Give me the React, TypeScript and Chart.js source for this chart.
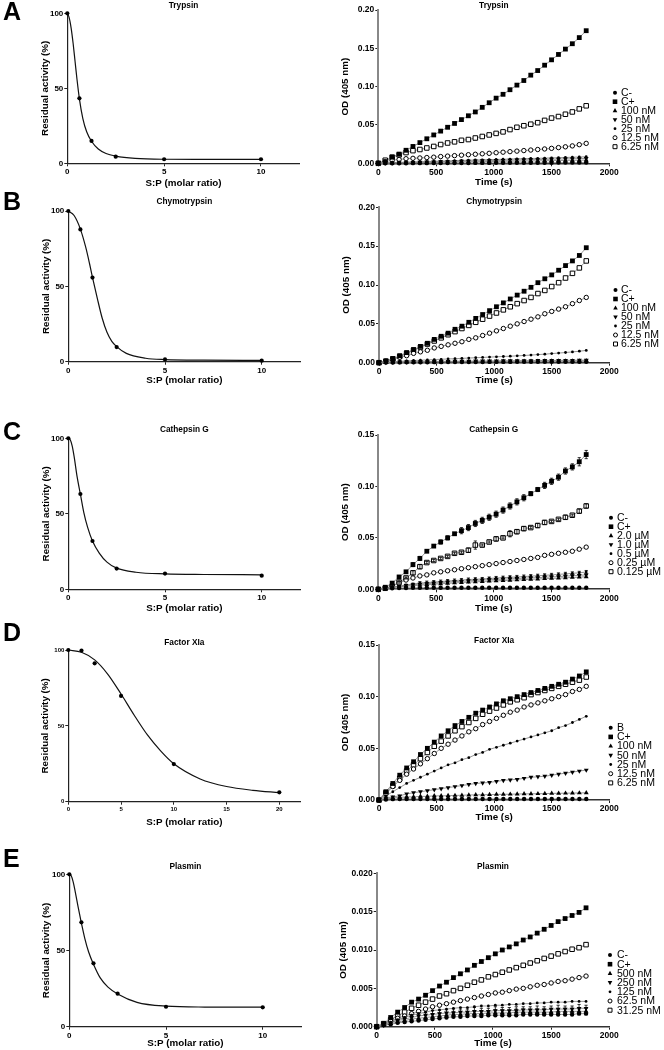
import React, { useEffect, useRef } from "react";
import { Chart, registerables } from "chart.js";

Chart.register(...registerables);

const FONT = "'Liberation Sans', Arial, Helvetica, sans-serif";

// ---------------- Data: dose-response (left column) ----------------
const RATIO = [0, 0.625, 1.25, 2.5, 5, 10];
const RATIO_FXIA = [0, 1.25, 2.5, 5, 10, 20];

const TRYPSIN_RES = [100, 43.3, 14.9, 4.4, 2.7, 2.7];
const CHYMO_RES = [100, 87.8, 55.8, 9.7, 1.5, 0.7];
const CATG_RES = [100, 63.1, 32, 13.7, 10.4, 9];
const FXIA_RES = [100, 99.6, 91.2, 69.7, 24.8, 6.2];
const PLASMIN_RES = [100, 68.5, 41.6, 21.7, 13.1, 12.7];

// fitted curves
const TRYPSIN_FIT_X = [0, 0.1, 0.2, 0.3, 0.4, 0.5, 0.625, 0.8, 1, 1.25, 1.6, 2, 2.5, 3.5, 5, 7, 10];
const TRYPSIN_FIT_Y = [100, 97, 90, 80, 68, 56, 43, 30, 21, 14.7, 9.5, 6.5, 4.8, 3.3, 2.7, 2.6, 2.6];
const CHYMO_FIT_X = [0, 0.3, 0.625, 0.9, 1.1, 1.25, 1.5, 1.75, 2, 2.25, 2.5, 3, 4, 5, 7, 10];
const CHYMO_FIT_Y = [100, 97, 88, 76, 65, 56, 42, 29, 19.5, 13.5, 10, 5.5, 2.3, 1.4, 1, 0.9];
const CATG_FIT_X = [0, 0.1, 0.2, 0.3, 0.45, 0.625, 0.8, 1, 1.25, 1.6, 2, 2.5, 3.5, 5, 7, 10];
const CATG_FIT_Y = [100, 99, 95, 88, 75, 63, 51, 41, 32, 24, 18, 14, 11.3, 10.2, 9.8, 9.6];
const FXIA_FIT_X = [0, 1.25, 2.5, 3.75, 5, 6.25, 7.5, 8.75, 10, 12.5, 15, 17.5, 20];
const FXIA_FIT_Y = [100, 98.5, 93.5, 84, 71, 57, 44, 33.5, 25, 15, 10, 7.5, 6];
const PLASMIN_FIT_X = [0, 0.1, 0.2, 0.3, 0.45, 0.625, 0.8, 1, 1.25, 1.6, 2, 2.5, 3.5, 5, 7, 10];
const PLASMIN_FIT_Y = [100, 99, 95, 89, 79, 68, 58, 49, 41, 32, 26, 21.5, 16, 13.5, 12.9, 12.8];

const RATIO_TICKS = [0, 5, 10];
const RATIO_TICKS_FXIA = [0, 5, 10, 15, 20];
const RES_TICKS = [0, 50, 100];

// ---------------- Data: kinetics (right column) ----------------
const TIME = [0, 60, 120, 180, 240, 300, 360, 420, 480, 540, 600, 660, 720, 780, 840, 900, 960, 1020, 1080, 1140, 1200, 1260, 1320, 1380, 1440, 1500, 1560, 1620, 1680, 1740, 1800];
const TIME_TICKS = [0, 500, 1000, 1500, 2000];
const OD_TICKS_20 = [0, 0.05, 0.1, 0.15, 0.2];
const OD_TICKS_15 = [0, 0.05, 0.1, 0.15];
const OD_TICKS_PLASMIN = [0, 0.005, 0.01, 0.015, 0.02];

const LABELS_NM = ["C-", "C+", "100 nM", "50 nM", "25 nM", "12.5 nM", "6.25 nM"];
const LABELS_UM = ["C-", "C+", "2.0 µM", "1.0 µM", "0.5 µM", "0.25 µM", "0.125 µM"];
const LABELS_FXIA = ["B", "C+", "100 nM", "50 nM", "25 nM", "12.5 nM", "6.25 nM"];
const LABELS_PLASMIN = ["C-", "C+", "500 nM", "250 nM", "125 nM", "62.5 nM", "31.25 nM"];

// Trypsin
const TRY_CNEG = [0, 0, 0.0001, 0.0001, 0.0001, 0.0002, 0.0002, 0.0002, 0.0003, 0.0003, 0.0003, 0.0004, 0.0004, 0.0004, 0.0005, 0.0005, 0.0005, 0.0006, 0.0006, 0.0006, 0.0007, 0.0007, 0.0007, 0.0008, 0.0008, 0.0008, 0.0009, 0.0009, 0.0009, 0.001, 0.001];
const TRY_CPOS = [0, 0.002, 0.008, 0.012, 0.017, 0.022, 0.027, 0.032, 0.037, 0.042, 0.047, 0.052, 0.057, 0.062, 0.067, 0.073, 0.079, 0.085, 0.09, 0.096, 0.102, 0.108, 0.115, 0.121, 0.128, 0.135, 0.142, 0.149, 0.156, 0.164, 0.173];
const TRY_100 = [0, 0.0002, 0.0004, 0.0005, 0.0007, 0.0008, 0.001, 0.0011, 0.0012, 0.0014, 0.0015, 0.0016, 0.0018, 0.0019, 0.002, 0.0022, 0.0023, 0.0024, 0.0026, 0.0027, 0.0028, 0.003, 0.0031, 0.0032, 0.0034, 0.0035, 0.0036, 0.0038, 0.0039, 0.004, 0.0042];
const TRY_50 = [0, 0.0003, 0.0006, 0.0008, 0.001, 0.0013, 0.0015, 0.0017, 0.0019, 0.0021, 0.0023, 0.0025, 0.0027, 0.0029, 0.0031, 0.0033, 0.0035, 0.0037, 0.0039, 0.0041, 0.0043, 0.0045, 0.0047, 0.0049, 0.0051, 0.0053, 0.0055, 0.0057, 0.0059, 0.0061, 0.0064];
const TRY_25 = [0, 0.0004, 0.0008, 0.0011, 0.0014, 0.0017, 0.002, 0.0023, 0.0026, 0.0029, 0.0032, 0.0035, 0.0037, 0.004, 0.0043, 0.0045, 0.0048, 0.005, 0.0053, 0.0055, 0.0058, 0.006, 0.0063, 0.0065, 0.0068, 0.007, 0.0073, 0.0076, 0.0079, 0.0082, 0.0086];
const TRY_12 = [0, 0.002, 0.004, 0.005, 0.006, 0.0065, 0.007, 0.0075, 0.008, 0.0088, 0.0094, 0.01, 0.0106, 0.0112, 0.0118, 0.0124, 0.013, 0.0138, 0.0145, 0.0152, 0.0159, 0.0166, 0.0173, 0.018, 0.0187, 0.0195, 0.0205, 0.0215, 0.0227, 0.0243, 0.026];
const TRY_6 = [0, 0.004, 0.008, 0.011, 0.014, 0.0165, 0.018, 0.02, 0.022, 0.0245, 0.0265, 0.028, 0.03, 0.031, 0.033, 0.035, 0.037, 0.039, 0.041, 0.044, 0.047, 0.049, 0.051, 0.053, 0.056, 0.059, 0.061, 0.064, 0.067, 0.071, 0.075];

// Chymotrypsin
const CHY_CNEG = [0, 0.0002, 0.0003, 0.0004, 0.0005, 0.0005, 0.0006, 0.0006, 0.0007, 0.0007, 0.0008, 0.0008, 0.0008, 0.0009, 0.0009, 0.0009, 0.001, 0.001, 0.001, 0.001, 0.0011, 0.0011, 0.0011, 0.0011, 0.0012, 0.0012, 0.0012, 0.0012, 0.0013, 0.0013, 0.0013];
const CHY_CPOS = [0, 0.002, 0.005, 0.009, 0.013, 0.017, 0.021, 0.025, 0.03, 0.034, 0.038, 0.043, 0.047, 0.052, 0.057, 0.062, 0.067, 0.072, 0.077, 0.082, 0.087, 0.092, 0.097, 0.103, 0.108, 0.113, 0.119, 0.125, 0.131, 0.138, 0.148];
const CHY_100 = [0, 0.0003, 0.0005, 0.0007, 0.0008, 0.0009, 0.001, 0.0011, 0.0012, 0.0012, 0.0013, 0.0013, 0.0014, 0.0014, 0.0015, 0.0015, 0.0016, 0.0016, 0.0017, 0.0017, 0.0018, 0.0018, 0.0019, 0.0019, 0.002, 0.002, 0.0021, 0.0021, 0.0022, 0.0022, 0.0023];
const CHY_50 = [0, 0.0004, 0.0007, 0.0009, 0.0011, 0.0013, 0.0014, 0.0015, 0.0016, 0.0017, 0.0018, 0.0019, 0.002, 0.0021, 0.0022, 0.0022, 0.0023, 0.0024, 0.0025, 0.0025, 0.0026, 0.0027, 0.0027, 0.0028, 0.0029, 0.0029, 0.003, 0.0031, 0.0031, 0.0032, 0.0033];
const CHY_25 = [0, 0.0007, 0.0013, 0.0018, 0.0023, 0.0028, 0.0032, 0.0036, 0.004, 0.0044, 0.0048, 0.0052, 0.0056, 0.006, 0.0064, 0.0068, 0.0072, 0.0076, 0.008, 0.0084, 0.0088, 0.0093, 0.0098, 0.0104, 0.011, 0.0117, 0.0124, 0.0131, 0.0139, 0.0148, 0.0158];
const CHY_12 = [0, 0.002, 0.004, 0.007, 0.009, 0.012, 0.014, 0.016, 0.019, 0.021, 0.023, 0.025, 0.027, 0.03, 0.032, 0.035, 0.038, 0.041, 0.044, 0.047, 0.05, 0.053, 0.056, 0.059, 0.063, 0.066, 0.069, 0.072, 0.076, 0.08, 0.084];
const CHY_6 = [0, 0.002, 0.005, 0.008, 0.012, 0.016, 0.02, 0.024, 0.028, 0.032, 0.036, 0.04, 0.044, 0.048, 0.052, 0.056, 0.06, 0.064, 0.068, 0.072, 0.076, 0.08, 0.084, 0.089, 0.093, 0.098, 0.103, 0.109, 0.115, 0.122, 0.131];

// Cathepsin G
const CAT_CNEG = [0, 0.0005, 0.001, 0.0012, 0.0013, 0.0014, 0.0014, 0.0015, 0.0015, 0.0015, 0.0015, 0.0015, 0.0015, 0.0015, 0.0015, 0.0015, 0.0015, 0.0015, 0.0015, 0.0015, 0.0015, 0.0015, 0.0015, 0.0015, 0.0015, 0.0015, 0.0015, 0.0015, 0.0015, 0.0015, 0.0015];
const CAT_CPOS = [0, 0.002, 0.006, 0.012, 0.017, 0.024, 0.03, 0.037, 0.042, 0.046, 0.05, 0.054, 0.057, 0.06, 0.064, 0.067, 0.07, 0.073, 0.077, 0.081, 0.085, 0.089, 0.093, 0.097, 0.101, 0.105, 0.109, 0.115, 0.119, 0.124, 0.131];
const CAT_CPOS_ERR = [0, 0, 0.001, 0.001, 0.001, 0.002, 0.002, 0.001, 0.001, 0.002, 0.002, 0.001, 0.003, 0.003, 0.003, 0.003, 0.003, 0.003, 0.003, 0.003, 0.003, 0.003, 0.002, 0.002, 0.003, 0.003, 0.003, 0.003, 0.003, 0.004, 0.004];
const CAT_2 = [0, 0.001, 0.0018, 0.0025, 0.003, 0.0035, 0.004, 0.0045, 0.005, 0.0054, 0.0058, 0.0062, 0.0066, 0.007, 0.0073, 0.0076, 0.0079, 0.0082, 0.0085, 0.0088, 0.0091, 0.0094, 0.0097, 0.01, 0.0103, 0.0106, 0.0109, 0.0112, 0.0115, 0.0118, 0.0122];
const CAT_1 = [0, 0.001, 0.002, 0.003, 0.0037, 0.0044, 0.005, 0.0055, 0.006, 0.0065, 0.007, 0.0074, 0.0078, 0.0082, 0.0086, 0.009, 0.0093, 0.0096, 0.0099, 0.0102, 0.0105, 0.0108, 0.0111, 0.0114, 0.0117, 0.012, 0.0124, 0.0128, 0.0132, 0.0136, 0.014];
const CAT_05 = [0, 0.001, 0.002, 0.003, 0.004, 0.005, 0.006, 0.0065, 0.007, 0.0075, 0.008, 0.0085, 0.009, 0.0095, 0.0098, 0.01, 0.0105, 0.011, 0.0113, 0.0117, 0.012, 0.0124, 0.0128, 0.0132, 0.0136, 0.014, 0.0145, 0.015, 0.0155, 0.016, 0.0168];
const CAT_05_ERR = [0, 0, 0, 0.0005, 0.001, 0.001, 0.0015, 0.0015, 0.0015, 0.0015, 0.0015, 0.0015, 0.0015, 0.0015, 0.0015, 0.0015, 0.0015, 0.0015, 0.0015, 0.0015, 0.0015, 0.0015, 0.0015, 0.0015, 0.0015, 0.0015, 0.0015, 0.0015, 0.0015, 0.0015, 0.0015];
const CAT_025 = [0, 0.001, 0.003, 0.006, 0.009, 0.011, 0.013, 0.014, 0.016, 0.017, 0.018, 0.019, 0.02, 0.021, 0.022, 0.023, 0.024, 0.025, 0.026, 0.027, 0.028, 0.029, 0.03, 0.031, 0.033, 0.034, 0.035, 0.036, 0.037, 0.039, 0.041];
const CAT_0125 = [0, 0.001, 0.003, 0.007, 0.011, 0.016, 0.022, 0.026, 0.028, 0.03, 0.032, 0.035, 0.036, 0.038, 0.043, 0.043, 0.046, 0.049, 0.05, 0.054, 0.056, 0.059, 0.06, 0.062, 0.065, 0.066, 0.068, 0.07, 0.072, 0.076, 0.081];
const CAT_0125_ERR = [0, 0, 0.001, 0.001, 0.001, 0.002, 0.002, 0.001, 0.001, 0.001, 0.001, 0.001, 0.001, 0.002, 0.004, 0.001, 0.001, 0.002, 0.001, 0.003, 0.002, 0.002, 0.001, 0.002, 0.002, 0.001, 0.001, 0.002, 0.001, 0.002, 0.002];

// Factor XIa
const FXI_B = [0, 0.0005, 0.0008, 0.001, 0.001, 0.001, 0.001, 0.001, 0.001, 0.001, 0.001, 0.001, 0.001, 0.001, 0.001, 0.001, 0.001, 0.001, 0.001, 0.001, 0.001, 0.001, 0.001, 0.001, 0.001, 0.001, 0.001, 0.001, 0.001, 0.001, 0.001];
const FXI_CPOS = [0, 0.008, 0.016, 0.024, 0.031, 0.037, 0.044, 0.05, 0.056, 0.062, 0.067, 0.072, 0.076, 0.08, 0.084, 0.087, 0.09, 0.093, 0.096, 0.098, 0.1, 0.102, 0.104, 0.106, 0.108, 0.11, 0.112, 0.114, 0.117, 0.12, 0.124];
const FXI_100 = [0, 0.001, 0.002, 0.0025, 0.003, 0.003, 0.0035, 0.0035, 0.004, 0.004, 0.0042, 0.0044, 0.0046, 0.0048, 0.005, 0.0051, 0.0052, 0.0054, 0.0055, 0.0056, 0.0058, 0.0059, 0.006, 0.0061, 0.0062, 0.0064, 0.0065, 0.0066, 0.0067, 0.0068, 0.007];
const FXI_50 = [0, 0.002, 0.003, 0.004, 0.006, 0.007, 0.008, 0.009, 0.01, 0.011, 0.012, 0.013, 0.014, 0.015, 0.016, 0.0165, 0.017, 0.018, 0.019, 0.0195, 0.02, 0.021, 0.022, 0.0225, 0.023, 0.024, 0.025, 0.026, 0.027, 0.028, 0.029];
const FXI_25 = [0, 0.004, 0.008, 0.012, 0.016, 0.019, 0.022, 0.025, 0.028, 0.031, 0.034, 0.036, 0.039, 0.041, 0.044, 0.046, 0.049, 0.051, 0.053, 0.055, 0.057, 0.059, 0.061, 0.063, 0.065, 0.067, 0.07, 0.072, 0.075, 0.078, 0.081];
const FXI_12 = [0, 0.006, 0.013, 0.019, 0.025, 0.03, 0.035, 0.04, 0.045, 0.05, 0.054, 0.058, 0.062, 0.066, 0.069, 0.073, 0.076, 0.079, 0.082, 0.085, 0.087, 0.09, 0.092, 0.094, 0.096, 0.098, 0.1, 0.102, 0.105, 0.107, 0.11];
const FXI_6 = [0, 0.007, 0.014, 0.021, 0.028, 0.034, 0.04, 0.046, 0.052, 0.057, 0.062, 0.067, 0.071, 0.075, 0.079, 0.083, 0.086, 0.089, 0.092, 0.095, 0.097, 0.099, 0.102, 0.104, 0.106, 0.108, 0.11, 0.112, 0.114, 0.116, 0.119];

// Plasmin
const PLA_CNEG = [0, 0.0002, 0.0003, 0.0005, 0.0006, 0.0007, 0.0008, 0.0009, 0.001, 0.0011, 0.0012, 0.0013, 0.0013, 0.0014, 0.0014, 0.0014, 0.0015, 0.0015, 0.0015, 0.0015, 0.0015, 0.0016, 0.0016, 0.0016, 0.0016, 0.0016, 0.0016, 0.0016, 0.0016, 0.0017, 0.0017];
const PLA_CPOS = [0, 0.0004, 0.0012, 0.0019, 0.0025, 0.0032, 0.0036, 0.0041, 0.0047, 0.0053, 0.0058, 0.0064, 0.0069, 0.0074, 0.008, 0.0085, 0.009, 0.0095, 0.01, 0.0104, 0.0108, 0.0113, 0.0117, 0.0122, 0.0127, 0.0132, 0.0137, 0.0141, 0.0145, 0.0149, 0.0155];
const PLA_500 = [0, 0.0002, 0.0004, 0.0006, 0.0008, 0.001, 0.0011, 0.0012, 0.0013, 0.0014, 0.0015, 0.0016, 0.0016, 0.0017, 0.0017, 0.0017, 0.0018, 0.0018, 0.0018, 0.0018, 0.0019, 0.0019, 0.0019, 0.0019, 0.0019, 0.0019, 0.002, 0.002, 0.002, 0.002, 0.002];
const PLA_500_ERR = [0, 0, 0.0001, 0.0002, 0.0003, 0.0003, 0.0004, 0.0003, 0.0004, 0.0004, 0.0003, 0.0004, 0.0004, 0.0003, 0.0004, 0.0004, 0.0003, 0.0004, 0.0004, 0.0003, 0.0004, 0.0004, 0.0003, 0.0004, 0.0004, 0.0004, 0.0003, 0.0004, 0.0004, 0.0003, 0.0004];
const PLA_250 = [0, 0.0002, 0.0005, 0.0008, 0.001, 0.0012, 0.0014, 0.0015, 0.0016, 0.0017, 0.0018, 0.0018, 0.0019, 0.0019, 0.002, 0.002, 0.002, 0.0021, 0.0021, 0.0021, 0.0021, 0.0022, 0.0022, 0.0022, 0.0022, 0.0023, 0.0023, 0.0023, 0.0023, 0.0024, 0.0024];
const PLA_250_ERR = [0, 0, 0.0001, 0.0002, 0.0003, 0.0004, 0.0004, 0.0004, 0.0005, 0.0004, 0.0004, 0.0005, 0.0004, 0.0004, 0.0005, 0.0004, 0.0004, 0.0005, 0.0004, 0.0004, 0.0005, 0.0004, 0.0004, 0.0005, 0.0004, 0.0004, 0.0005, 0.0004, 0.0004, 0.0005, 0.0004];
const PLA_125 = [0, 0.0003, 0.0006, 0.0009, 0.0012, 0.0015, 0.0017, 0.0019, 0.0021, 0.0022, 0.0023, 0.0024, 0.0025, 0.0025, 0.0026, 0.0027, 0.0027, 0.0028, 0.0028, 0.0029, 0.0029, 0.003, 0.003, 0.0031, 0.0031, 0.0032, 0.0032, 0.0032, 0.0033, 0.0033, 0.0033];
const PLA_62 = [0, 0.0003, 0.0007, 0.0011, 0.0014, 0.0017, 0.002, 0.0023, 0.0026, 0.0028, 0.003, 0.0032, 0.0034, 0.0036, 0.0038, 0.004, 0.0042, 0.0044, 0.0045, 0.0047, 0.0049, 0.005, 0.0052, 0.0054, 0.0055, 0.0057, 0.0059, 0.006, 0.0062, 0.0064, 0.0066];
const PLA_31 = [0, 0.0004, 0.0009, 0.0014, 0.0019, 0.0024, 0.0028, 0.0032, 0.0036, 0.004, 0.0043, 0.0047, 0.005, 0.0054, 0.0058, 0.0061, 0.0065, 0.0068, 0.0071, 0.0074, 0.0077, 0.008, 0.0083, 0.0086, 0.0089, 0.0092, 0.0095, 0.0098, 0.0101, 0.0103, 0.0107];

// ---------------- Styling / layout ----------------
type Mk = "circle" | "square" | "triangle" | "triangleDown" | "dot" | "openCircle" | "openSquare";
const MARKERS: Mk[] = ["circle", "square", "triangle", "triangleDown", "dot", "openCircle", "openSquare"];

interface Series { label: string; values: number[]; marker: Mk; errors?: number[] }

interface PanelCfg {
  kind: "dose" | "kinetic";
  canvas: [number, number, number, number];
  plot: [number, number, number, number];
  xMax: number; yMax: number;
  xTicks: number[]; yTicks: number[]; decimals: number;
  tickFont: number;
  title: string; titleY: number;
  xTitle: string; xTitleY: number;
  yTitle: string; yTitleX: number;
  letter?: string; letterY?: number;
  doseX?: number[]; doseY?: number[]; fitX?: number[]; fitY?: number[];
  series?: Series[];
  legend?: { mx: number; tx: number; y0: number; dy: number };
}

function mkSeries(labels: string[], vals: number[][], errs: (number[] | undefined)[] = []): Series[] {
  return labels.map((l, i) => ({ label: l, values: vals[i], marker: MARKERS[i], errors: errs[i] }));
}

function markerProps(m: Mk) {
  switch (m) {
    case "circle": return { pointStyle: "circle", pointRadius: 2.2, pointBackgroundColor: "#000", pointBorderColor: "#000", pointBorderWidth: 0, pointRotation: 0 };
    case "square": return { pointStyle: "rect", pointRadius: 3.4, pointBackgroundColor: "#000", pointBorderColor: "#000", pointBorderWidth: 0, pointRotation: 0 };
    case "triangle": return { pointStyle: "triangle", pointRadius: 2.8, pointBackgroundColor: "#000", pointBorderColor: "#000", pointBorderWidth: 0, pointRotation: 0 };
    case "triangleDown": return { pointStyle: "triangle", pointRadius: 2.8, pointBackgroundColor: "#000", pointBorderColor: "#000", pointBorderWidth: 0, pointRotation: 180 };
    case "dot": return { pointStyle: "circle", pointRadius: 1.4, pointBackgroundColor: "#000", pointBorderColor: "#000", pointBorderWidth: 0, pointRotation: 0 };
    case "openCircle": return { pointStyle: "circle", pointRadius: 2.2, pointBackgroundColor: "#fff", pointBorderColor: "#000", pointBorderWidth: 1, pointRotation: 0 };
    default: return { pointStyle: "rect", pointRadius: 3.2, pointBackgroundColor: "#fff", pointBorderColor: "#000", pointBorderWidth: 1, pointRotation: 0 };
  }
}

function drawMarker(ctx: CanvasRenderingContext2D, m: Mk, x: number, y: number) {
  ctx.save();
  ctx.fillStyle = "#000";
  ctx.strokeStyle = "#000";
  ctx.lineWidth = 1;
  ctx.beginPath();
  switch (m) {
    case "circle": ctx.arc(x, y, 2, 0, Math.PI * 2); ctx.fill(); break;
    case "square": ctx.rect(x - 2.3, y - 2.3, 4.6, 4.6); ctx.fill(); break;
    case "triangle": ctx.moveTo(x, y - 2.6); ctx.lineTo(x + 2.3, y + 1.5); ctx.lineTo(x - 2.3, y + 1.5); ctx.closePath(); ctx.fill(); break;
    case "triangleDown": ctx.moveTo(x, y + 2.6); ctx.lineTo(x + 2.3, y - 1.5); ctx.lineTo(x - 2.3, y - 1.5); ctx.closePath(); ctx.fill(); break;
    case "dot": ctx.arc(x, y, 1.4, 0, Math.PI * 2); ctx.fill(); break;
    case "openCircle": ctx.arc(x, y, 2, 0, Math.PI * 2); ctx.stroke(); break;
    default: ctx.rect(x - 2, y - 2, 4, 4); ctx.stroke(); break;
  }
  ctx.restore();
}

const YW = 30;
const XH = 15;

const PANELS: PanelCfg[] = [
  // Left column
  { kind: "dose", canvas: [0, 0, 330, 190], plot: [67.3, 13.3, 299.7, 163.3], xMax: 12, yMax: 100, xTicks: RATIO_TICKS, yTicks: RES_TICKS, decimals: 0, tickFont: 8,
    title: "Trypsin", titleY: 5.5, xTitle: "S:P (molar ratio)", xTitleY: 183, yTitle: "Residual activity (%)", yTitleX: 45, letter: "A", letterY: 20,
    doseX: RATIO, doseY: TRYPSIN_RES, fitX: TRYPSIN_FIT_X, fitY: TRYPSIN_FIT_Y },
  { kind: "dose", canvas: [0, 190, 330, 225], plot: [68.3, 211, 300.4, 361.7], xMax: 12, yMax: 100, xTicks: RATIO_TICKS, yTicks: RES_TICKS, decimals: 0, tickFont: 8,
    title: "Chymotrypsin", titleY: 202, xTitle: "S:P (molar ratio)", xTitleY: 380, yTitle: "Residual activity (%)", yTitleX: 46, letter: "B", letterY: 210,
    doseX: RATIO, doseY: CHYMO_RES, fitX: CHYMO_FIT_X, fitY: CHYMO_FIT_Y },
  { kind: "dose", canvas: [0, 415, 330, 205], plot: [68.3, 438.3, 300.4, 589.3], xMax: 12, yMax: 100, xTicks: RATIO_TICKS, yTicks: RES_TICKS, decimals: 0, tickFont: 8,
    title: "Cathepsin G", titleY: 430, xTitle: "S:P (molar ratio)", xTitleY: 608, yTitle: "Residual activity (%)", yTitleX: 46, letter: "C", letterY: 439.5,
    doseX: RATIO, doseY: CATG_RES, fitX: CATG_FIT_X, fitY: CATG_FIT_Y },
  { kind: "dose", canvas: [0, 620, 330, 210], plot: [68.3, 650, 300.4, 801.7], xMax: 22, yMax: 100, xTicks: RATIO_TICKS_FXIA, yTicks: RES_TICKS, decimals: 0, tickFont: 6,
    title: "Factor XIa", titleY: 643, xTitle: "S:P (molar ratio)", xTitleY: 822, yTitle: "Residual activity (%)", yTitleX: 45, letter: "D", letterY: 641,
    doseX: RATIO_FXIA, doseY: FXIA_RES, fitX: FXIA_FIT_X, fitY: FXIA_FIT_Y },
  { kind: "dose", canvas: [0, 830, 330, 220], plot: [69.3, 874.3, 301.4, 1026.7], xMax: 12, yMax: 100, xTicks: RATIO_TICKS, yTicks: RES_TICKS, decimals: 0, tickFont: 8,
    title: "Plasmin", titleY: 867, xTitle: "S:P (molar ratio)", xTitleY: 1043, yTitle: "Residual activity (%)", yTitleX: 46.5, letter: "E", letterY: 866.5,
    doseX: RATIO, doseY: PLASMIN_RES, fitX: PLASMIN_FIT_X, fitY: PLASMIN_FIT_Y },
  // Right column
  { kind: "kinetic", canvas: [330, 0, 334, 190], plot: [378.3, 10, 609.3, 163.3], xMax: 2000, yMax: 0.2, xTicks: TIME_TICKS, yTicks: OD_TICKS_20, decimals: 2, tickFont: 8.5,
    title: "Trypsin", titleY: 5.5, xTitle: "Time (s)", xTitleY: 182, yTitle: "OD (405 nm)", yTitleX: 345,
    series: mkSeries(LABELS_NM, [TRY_CNEG, TRY_CPOS, TRY_100, TRY_50, TRY_25, TRY_12, TRY_6]),
    legend: { mx: 615, tx: 621, y0: 92.7, dy: 9 } },
  { kind: "kinetic", canvas: [330, 190, 334, 225], plot: [379, 207.3, 609.3, 362.7], xMax: 2000, yMax: 0.2, xTicks: TIME_TICKS, yTicks: OD_TICKS_20, decimals: 2, tickFont: 8.5,
    title: "Chymotrypsin", titleY: 202, xTitle: "Time (s)", xTitleY: 380, yTitle: "OD (405 nm)", yTitleX: 346.5,
    series: mkSeries(LABELS_NM, [CHY_CNEG, CHY_CPOS, CHY_100, CHY_50, CHY_25, CHY_12, CHY_6]),
    legend: { mx: 615.5, tx: 621, y0: 290, dy: 9 } },
  { kind: "kinetic", canvas: [330, 415, 334, 205], plot: [378.3, 435, 609.3, 589.3], xMax: 2000, yMax: 0.15, xTicks: TIME_TICKS, yTicks: OD_TICKS_15, decimals: 2, tickFont: 8.5,
    title: "Cathepsin G", titleY: 430, xTitle: "Time (s)", xTitleY: 608, yTitle: "OD (405 nm)", yTitleX: 345,
    series: mkSeries(LABELS_UM, [CAT_CNEG, CAT_CPOS, CAT_2, CAT_1, CAT_05, CAT_025, CAT_0125], [undefined, CAT_CPOS_ERR, undefined, undefined, CAT_05_ERR, undefined, CAT_0125_ERR]),
    legend: { mx: 611, tx: 617, y0: 517.7, dy: 9 } },
  { kind: "kinetic", canvas: [330, 620, 334, 210], plot: [379, 645, 609.3, 800], xMax: 2000, yMax: 0.15, xTicks: TIME_TICKS, yTicks: OD_TICKS_15, decimals: 2, tickFont: 8.5,
    title: "Factor XIa", titleY: 641, xTitle: "Time (s)", xTitleY: 817, yTitle: "OD (405 nm)", yTitleX: 345,
    series: mkSeries(LABELS_FXIA, [FXI_B, FXI_CPOS, FXI_100, FXI_50, FXI_25, FXI_12, FXI_6]),
    legend: { mx: 610.7, tx: 617, y0: 727.7, dy: 9.2 } },
  { kind: "kinetic", canvas: [330, 830, 334, 220], plot: [376.7, 873.3, 609.3, 1026.7], xMax: 2000, yMax: 0.02, xTicks: TIME_TICKS, yTicks: OD_TICKS_PLASMIN, decimals: 3, tickFont: 8.5,
    title: "Plasmin", titleY: 867, xTitle: "Time (s)", xTitleY: 1043, yTitle: "OD (405 nm)", yTitleX: 343,
    series: mkSeries(LABELS_PLASMIN, [PLA_CNEG, PLA_CPOS, PLA_500, PLA_250, PLA_125, PLA_62, PLA_31], [undefined, undefined, PLA_500_ERR, PLA_250_ERR, undefined, undefined, undefined]),
    legend: { mx: 610, tx: 617, y0: 955, dy: 9.2 } },
];

function makeDecor(p: PanelCfg) {
  const [cx, cy] = p.canvas;
  const [l, t, r, b] = p.plot;
  return {
    id: "decor",
    afterDatasetsDraw(chart: any) {
      if (!p.series) return;
      const ctx = chart.ctx;
      const ys = chart.scales.y;
      ctx.save();
      ctx.strokeStyle = "#000";
      ctx.lineWidth = 0.8;
      p.series.forEach((s, di) => {
        if (!s.errors) return;
        const meta = chart.getDatasetMeta(di);
        s.errors.forEach((e, i) => {
          if (!e) return;
          const pt = meta.data[i];
          if (!pt) return;
          const v = s.values[i];
          const y1 = ys.getPixelForValue(v + e);
          const y2 = ys.getPixelForValue(v - e);
          ctx.beginPath();
          ctx.moveTo(pt.x, y1); ctx.lineTo(pt.x, y2);
          ctx.moveTo(pt.x - 1.6, y1); ctx.lineTo(pt.x + 1.6, y1);
          ctx.moveTo(pt.x - 1.6, y2); ctx.lineTo(pt.x + 1.6, y2);
          ctx.stroke();
        });
      });
      ctx.restore();
    },
    afterDraw(chart: any) {
      const ctx: CanvasRenderingContext2D = chart.ctx;
      ctx.save();
      ctx.fillStyle = "#000";
      const midX = (l + r) / 2 - cx;
      const midY = (t + b) / 2 - cy;
      // title
      ctx.font = `bold 8.3px ${FONT}`;
      ctx.textAlign = "center";
      ctx.textBaseline = "middle";
      ctx.fillText(p.title, midX, p.titleY - cy);
      // axis titles
      ctx.font = `bold 9.8px ${FONT}`;
      ctx.fillText(p.xTitle, midX, p.xTitleY - cy);
      ctx.save();
      ctx.translate(p.yTitleX - cx, midY);
      ctx.rotate(-Math.PI / 2);
      ctx.fillText(p.yTitle, 0, 0);
      ctx.restore();
      // panel letter
      if (p.letter) {
        ctx.font = `bold 25px ${FONT}`;
        ctx.textAlign = "left";
        ctx.textBaseline = "alphabetic";
        ctx.fillText(p.letter, 3 - cx, (p.letterY as number) - cy);
      }
      // legend
      if (p.legend && p.series) {
        const lg = p.legend;
        ctx.font = `10.5px ${FONT}`;
        ctx.textAlign = "left";
        ctx.textBaseline = "middle";
        p.series.forEach((s, i) => {
          const y = lg.y0 + i * lg.dy - cy;
          drawMarker(ctx, s.marker, lg.mx - cx, y);
          ctx.fillText(s.label, lg.tx - cx, y + 0.5);
        });
      }
      ctx.restore();
    },
  };
}

function Panel({ p }: { p: PanelCfg }) {
  const ref = useRef<HTMLCanvasElement | null>(null);
  useEffect(() => {
    const canvas = ref.current;
    if (!canvas) return;
    const [cx, cy, cw, ch] = p.canvas;
    const [l, t, r, b] = p.plot;
    const padding = {
      left: l - cx - YW,
      top: t - cy,
      right: cx + cw - r,
      bottom: cy + ch - b - XH,
    };
    let datasets: any[] = [];
    if (p.kind === "dose") {
      datasets = [
        {
          label: "data",
          data: (p.doseX as number[]).map((x, i) => ({ x, y: (p.doseY as number[])[i] })),
          showLine: false,
          pointStyle: "circle",
          pointRadius: 2.1,
          pointBackgroundColor: "#000",
          pointBorderWidth: 0,
          clip: false,
        },
        {
          label: "fit",
          data: (p.fitX as number[]).map((x, i) => ({ x, y: (p.fitY as number[])[i] })),
          showLine: true,
          borderColor: "#111",
          borderWidth: 1.2,
          pointRadius: 0,
          cubicInterpolationMode: "monotone",
          clip: false,
        },
      ];
    } else {
      datasets = (p.series as Series[]).map((s) => ({
        label: s.label,
        data: TIME.map((x, i) => ({ x, y: s.values[i] })),
        showLine: true,
        borderColor: "#7a7a7a",
        borderWidth: 0.8,
        clip: false,
        ...markerProps(s.marker),
      }));
    }
    const right = p.kind === "kinetic";
    const tickFont = { family: FONT, size: p.tickFont, weight: "bold" as const };
    const chart = new Chart(canvas, {
      type: "scatter",
      data: { datasets },
      plugins: [makeDecor(p)],
      options: {
        responsive: false,
        animation: false,
        devicePixelRatio: 1,
        events: [],
        layout: { padding },
        plugins: { legend: { display: false }, tooltip: { enabled: false }, title: { display: false } },
        scales: {
          x: {
            type: "linear",
            min: 0,
            max: p.xMax,
            afterBuildTicks: (s: any) => { s.ticks = p.xTicks.map((v) => ({ value: v })); },
            afterFit: (s: any) => { s.height = XH; },
            grid: { drawOnChartArea: false, drawTicks: true, tickLength: 3, color: "#222", lineWidth: 1 },
            border: { display: true, color: right ? "#333" : "#222", width: right ? 1.6 : 1.2 },
            ticks: { font: tickFont, color: "#000", padding: 1, maxRotation: 0, autoSkip: false, callback: (v: any) => String(v) },
          },
          y: {
            type: "linear",
            min: 0,
            max: p.yMax,
            afterBuildTicks: (s: any) => { s.ticks = p.yTicks.map((v) => ({ value: v })); },
            afterFit: (s: any) => { s.width = YW; },
            grid: { drawOnChartArea: false, drawTicks: true, tickLength: 3, color: "#222", lineWidth: 1 },
            border: { display: true, color: right ? "#888" : "#222", width: right ? 2 : 1.2 },
            ticks: { font: tickFont, color: "#000", padding: 1, autoSkip: false, callback: (v: any) => Number(v).toFixed(p.decimals) },
          },
        },
      } as any,
    });
    return () => chart.destroy();
  }, [p]);
  const [cx, cy, cw, ch] = p.canvas;
  return (
    <canvas
      ref={ref}
      width={cw}
      height={ch}
      style={{ position: "absolute", left: cx, top: cy, width: cw, height: ch }}
    />
  );
}

export default function App() {
  return (
    <div style={{ position: "absolute", left: 0, top: 0, width: 664, height: 1050, background: "#fff", overflow: "hidden" }}>
      {PANELS.map((p, i) => (
        <Panel key={i} p={p} />
      ))}
    </div>
  );
}
